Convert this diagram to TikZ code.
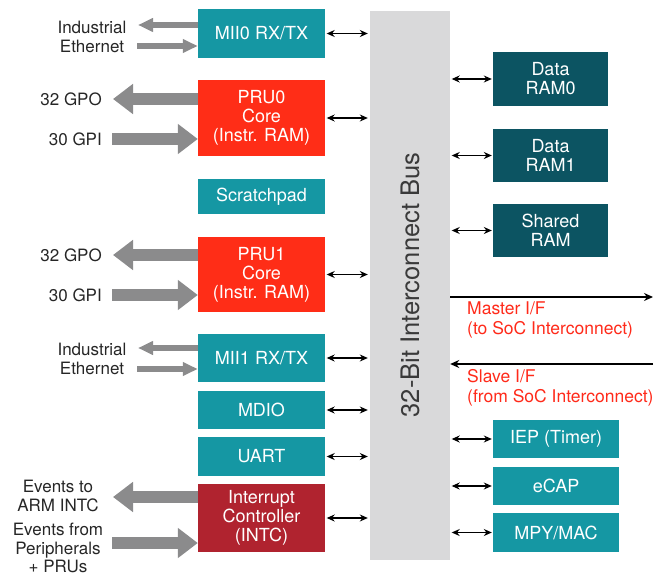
\documentclass[tikz,border=0pt]{standalone}
\usepackage{fontspec}
\setmainfont{TeX Gyre Heros}
\usetikzlibrary{arrows.meta}
\definecolor{teal1}{HTML}{1597A3}
\definecolor{prured}{HTML}{FF2D17}
\definecolor{intcred}{HTML}{B0232F}
\definecolor{ramteal}{HTML}{0C5462}
\definecolor{busgray}{HTML}{D9D9DA}
\definecolor{arrgray}{HTML}{8B8B8C}
\definecolor{txtred}{HTML}{FF2A1A}
\definecolor{bustxt}{HTML}{3A3A3A}
\tikzset{
  blk/.style={draw=none, text=white, align=center, inner sep=0pt,
    font=\fontsize{18}{19}\selectfont},
  tealbox/.style={blk, fill=teal1},
  redbox/.style={blk, fill=prured},
  intcbox/.style={blk, fill=intcred},
  rambox/.style={blk, fill=ramteal},
  lbl/.style={align=center, inner sep=0pt, text=black!85,
    font=\fontsize{17}{18.5}\selectfont},
  redlbl/.style={align=left, inner sep=0pt, text=txtred,
    font=\fontsize{17.5}{20}\selectfont},
  bi/.style={line width=1.2pt, {Stealth[length=8pt,width=7pt]}-{Stealth[length=8pt,width=7pt]}},
  one/.style={line width=1.4pt, -{Stealth[length=9pt,width=8pt]}},
  fat/.style={arrgray, line width=12pt, -{Triangle[length=20pt,width=29pt]}},
  thin/.style={arrgray, line width=6pt, -{Triangle[length=15pt,width=13pt]}},
}
\begin{document}
\begin{tikzpicture}[x=1pt,y=-1pt]
\useasboundingbox (0,0) rectangle (666,580);
% bus
\node[fill=busgray, minimum width=80pt, minimum height=549pt, inner sep=0pt] (bus) at (410,285.5) {};
\node[rotate=90, text=bustxt, font=\fontsize{25.5}{28}\selectfont, inner sep=0pt] (bustext) at (410,285) {32-Bit Interconnect Bus};
% left boxes
\node[tealbox, minimum width=127pt, minimum height=49pt] (mii0) at (261.5,33.5) {MII0 RX/TX};
\node[redbox, minimum width=127pt, minimum height=76pt] (pru0) at (261.5,118) {PRU0\\Core\\(Instr. RAM)};
\node[tealbox, minimum width=127pt, minimum height=35pt] (scr) at (261.5,196.5) {Scratchpad};
\node[redbox, minimum width=127pt, minimum height=75pt] (pru1) at (261.5,274.5) {PRU1\\Core\\(Instr. RAM)};
\node[tealbox, minimum width=127pt, minimum height=48pt] (mii1) at (261.5,358) {MII1 RX/TX};
\node[tealbox, minimum width=127pt, minimum height=38pt] (mdio) at (261.5,410) {MDIO};
\node[tealbox, minimum width=127pt, minimum height=39pt] (uart) at (261.5,456.5) {UART};
\node[intcbox, minimum width=127pt, minimum height=68pt] (intc) at (261.5,518) {Interrupt\\Controller\\(INTC)};
% right boxes
\node[rambox, minimum width=115pt, minimum height=54pt] (ram0) at (550.5,79) {Data\\RAM0};
\node[rambox, minimum width=115pt, minimum height=53pt] (ram1) at (550.5,155.5) {Data\\RAM1};
\node[rambox, minimum width=115pt, minimum height=53pt] (sram) at (550.5,230.5) {Shared\\RAM};
\node[tealbox, minimum width=126pt, minimum height=38pt] (iep) at (556,439) {IEP (Timer)};
\node[tealbox, minimum width=126pt, minimum height=38pt] (ecap) at (556,486) {eCAP};
\node[tealbox, minimum width=126pt, minimum height=39pt] (mpy) at (556,532.5) {MPY/MAC};
% left bidirectional connectors
\foreach \n in {mii0,pru0,pru1,mii1,mdio,uart,intc}
  \draw[bi] ([xshift=1.5pt]\n.east) -- ([xshift=-2pt]\n.east -| bus.west);
\foreach \n in {ram0,ram1,sram,iep,ecap,mpy}
  \draw[bi] ([xshift=1.5pt]\n.west -| bus.east) -- ([xshift=-1pt]\n.west);
% master / slave
\coordinate (mend) at (653,297);
\coordinate (send) at (653,364);
\draw[one] (mend -| bus.east) -- (mend);
\draw[one] (send) -- (send -| bus.east);
\node[redlbl, anchor=north west] (mtxt) at (467,302) {Master I/F\\(to SoC Interconnect)};
\node[redlbl, anchor=north west] (stxt) at (467,369) {Slave I/F\\(from SoC Interconnect)};
% ethernet MII0
\coordinate (e0a) at (138,25);
\coordinate (e0b) at (137,46);
\draw[thin] (mii0.west |- e0a) -- (e0a);
\draw[thin] (e0b) -- (mii0.west |- e0b);
\node[lbl] (eth0) at (92,37) {Industrial\\Ethernet};
% PRU0
\coordinate (g0o) at (113,99);
\coordinate (g0i) at (112,139);
\draw[fat] (pru0.west |- g0o) -- (g0o);
\draw[fat] (g0i) -- (pru0.west |- g0i);
\node[lbl, anchor=east] (gpo0) at (102,99) {32 GPO};
\node[lbl, anchor=east] (gpi0) at (102,139) {30 GPI};
% PRU1
\coordinate (g1o) at (113,255);
\coordinate (g1i) at (112,295);
\draw[fat] (pru1.west |- g1o) -- (g1o);
\draw[fat] (g1i) -- (pru1.west |- g1i);
\node[lbl, anchor=east] (gpo1) at (102,255) {32 GPO};
\node[lbl, anchor=east] (gpi1) at (102,295) {30 GPI};
% ethernet MII1
\coordinate (e1a) at (138,348);
\coordinate (e1b) at (137,369);
\draw[thin] (mii1.west |- e1a) -- (e1a);
\draw[thin] (e1b) -- (mii1.west |- e1b);
\node[lbl] (eth1) at (92,359) {Industrial\\Ethernet};
% INTC
\coordinate (ev1) at (113,497);
\coordinate (ev2) at (112,543);
\draw[fat] (intc.west |- ev1) -- (ev1);
\draw[fat] (ev2) -- (intc.west |- ev2);
\node[lbl] (evto) at (58,496) {Events to\\ARM INTC};
\node[lbl] (evfrom) at (58,548) {Events from\\Peripherals\\+ PRUs};
\end{tikzpicture}
\end{document}
